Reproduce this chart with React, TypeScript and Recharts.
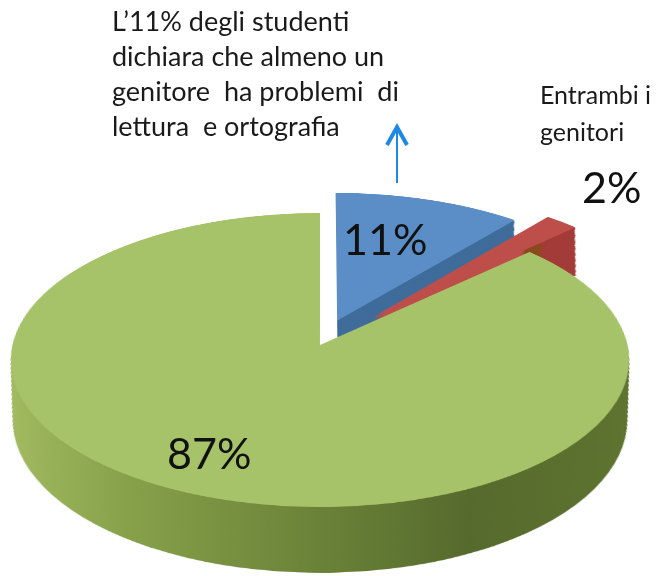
import React from 'react';
import { PieChart, Pie, Cell } from 'recharts';

const categories = ['Un genitore', 'Entrambi i genitori', 'Nessuno'];
const values = [11, 2, 87];
const topColors = ['#5B8EC6', '#BE4E4A', '#A7C36A'];
const wallColors = ['#3F6C9A', 'url(#redWall)', 'url(#greenWall)'];
const captionLines = [
  'L’11% degli studenti',
  'dichiara che almeno un',
  'genitore  ha problemi  di',
  'lettura  e ortografia',
];
const sideLines = ['Entrambi i', 'genitori'];

const data = categories.map((name, i) => ({ name, value: values[i] }));

// pie plane, tilted by the css matrix below
const R = 300;
const CX = 400;
const CY = 400;
const explode = [
  { dx: 17, dy: -51, depth: 105, shrink: 12 },
  { dx: 53, dy: -59, depth: 105, shrink: 12 },
  { dx: 0, dy: 0, depth: 119, shrink: 14 },
];
const LAYERS = 40;

const slice = (sliceIdx: number, key: string, fill: string, f: number) => {
  const e = explode[sliceIdx];
  return (
    <Pie
      key={key}
      data={data}
      dataKey="value"
      cx={CX + e.dx}
      cy={CY + e.dy + e.depth * f}
      outerRadius={R - e.shrink * f}
      startAngle={90}
      endAngle={-270}
      stroke="none"
      label={false}
      labelLine={false}
      isAnimationActive={false}
    >
      {data.map((d, i) => (
        <Cell key={d.name} fill={i === sliceIdx ? fill : 'none'} />
      ))}
    </Pie>
  );
};

const wall = (sliceIdx: number) =>
  Array.from({ length: LAYERS }, (_, n) =>
    slice(sliceIdx, `wall-${sliceIdx}-${n}`, wallColors[sliceIdx], 1 - n / LAYERS),
  );

export default function App() {
  return (
    <div style={{ position: 'absolute', left: 0, top: 0, width: 665, height: 576, overflow: 'hidden', background: '#fff' }}>
      <div
        style={{
          position: 'absolute',
          left: 320 - CX,
          top: 345 - CY,
          transformOrigin: `${CX}px ${CY}px`,
          transform: 'matrix3d(1.025,0,0,0, 0,0.485,0,-0.00034, 0,0,1,0, 0,0,0,1)',
        }}
      >
        <PieChart width={800} height={900} margin={{ top: 0, right: 0, bottom: 0, left: 0 }}>
          <defs>
            <linearGradient id="greenWall" x1="0" y1="0" x2="1" y2="0">
              <stop offset="0%" stopColor="#A3BC62" />
              <stop offset="22%" stopColor="#86A04A" />
              <stop offset="50%" stopColor="#6A8238" />
              <stop offset="72%" stopColor="#566A2D" />
              <stop offset="100%" stopColor="#5F7430" />
            </linearGradient>
            <linearGradient id="redWall" x1="0" y1="0" x2="1" y2="0">
              <stop offset="0%" stopColor="#BE4E4A" />
              <stop offset="72%" stopColor="#BE4E4A" />
              <stop offset="74%" stopColor="#8A4A1E" />
              <stop offset="81%" stopColor="#8A4A1E" />
              <stop offset="83%" stopColor="#A33C38" />
              <stop offset="100%" stopColor="#A33C38" />
            </linearGradient>
          </defs>
          {wall(0)}
          {slice(0, 'top-0', topColors[0], 0)}
          {wall(1)}
          {slice(1, 'top-1', topColors[1], 0)}
          {wall(2)}
          {slice(2, 'top-2', topColors[2], 0)}
        </PieChart>
      </div>

      <svg width={665} height={576} style={{ position: 'absolute', left: 0, top: 0, fontFamily: 'Lato, sans-serif' }}>
        {captionLines.map((t, i) => (
          <text key={t} x={112} y={31 + i * 35} fontSize={27} fill="#1a1a1a" style={{ whiteSpace: 'pre' }}>
            {t}
          </text>
        ))}
        {sideLines.map((t, i) => (
          <text key={t} x={540} y={104 + i * 37} fontSize={25} fill="#1a1a1a">
            {t}
          </text>
        ))}
        <text x={582} y={203} fontSize={43} fill="#111">{`${values[1]}%`}</text>
        <text x={343} y={255} fontSize={43} fill="#111">{`${values[0]}%`}</text>
        <text x={167} y={469} fontSize={43} fill="#111">{`${values[2]}%`}</text>
        <line x1={397} y1={183} x2={397} y2={130} stroke="#1E88E5" strokeWidth={2} />
        <polyline points="387,145 397,127 407,145" fill="none" stroke="#1E88E5" strokeWidth={4} />
      </svg>
    </div>
  );
}
